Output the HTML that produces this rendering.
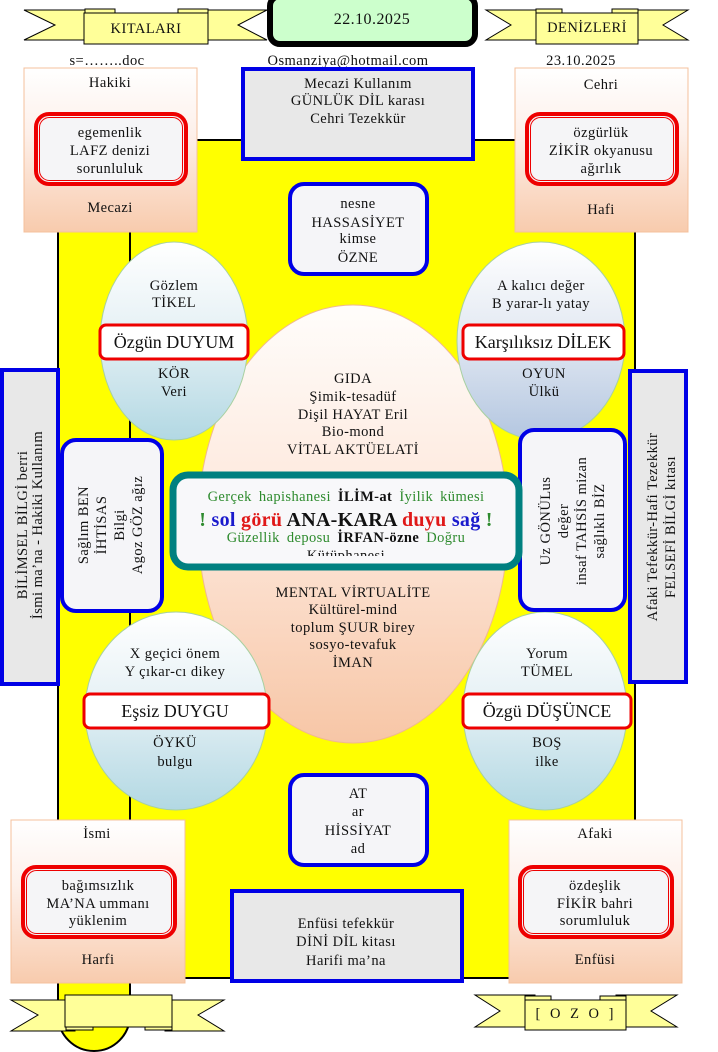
<!DOCTYPE html>
<html><head><meta charset="utf-8">
<style>
html,body{margin:0;padding:0;background:#fff;}
svg{display:block;}
text{font-family:"Liberation Serif","DejaVu Serif",serif;font-size:14.5px;fill:#111;letter-spacing:0.45px;}
.big{font-size:18px;letter-spacing:0px;}
</style></head>
<body>
<svg width="718" height="1052" viewBox="0 0 718 1052" xmlns="http://www.w3.org/2000/svg">
<defs>
<linearGradient id="peach" x1="0" y1="0" x2="0" y2="1">
<stop offset="0" stop-color="#ffffff"/><stop offset="0.4" stop-color="#fdf0ea"/><stop offset="1" stop-color="#f8cbad"/>
</linearGradient>
<linearGradient id="blueL" x1="0" y1="0" x2="0" y2="1">
<stop offset="0" stop-color="#ffffff"/><stop offset="0.45" stop-color="#e6f1f5"/><stop offset="1" stop-color="#b2d8e3"/>
</linearGradient>
<linearGradient id="blueR" x1="0" y1="0" x2="0" y2="1">
<stop offset="0" stop-color="#ffffff"/><stop offset="0.45" stop-color="#e4eaf3"/><stop offset="1" stop-color="#b3c6e0"/>
</linearGradient>
<linearGradient id="center" x1="0" y1="0" x2="0" y2="1">
<stop offset="0" stop-color="#fffdfb"/><stop offset="0.5" stop-color="#fde6d9"/><stop offset="1" stop-color="#f7c6a6"/>
</linearGradient>
<clipPath id="tealclip"><rect x="170" y="472" width="352" height="84"/></clipPath>
</defs>

<!-- yellow main area -->
<rect x="58" y="140" width="577" height="838" fill="#ffff00" stroke="#000" stroke-width="2"/>
<path d="M58,140 V1015 A36,36 0 0 0 130,1015 V140" fill="#ffff00" stroke="#000" stroke-width="2"/>

<!-- top banners -->
<polygon points="24,10 100,10 100,40 24,40 55,25" fill="#ffff99" stroke="#000" stroke-width="1"/>
<polygon points="192,10 267,10 238,25 267,40 192,40" fill="#ffff99" stroke="#000" stroke-width="1"/>
<rect x="85" y="9" width="30" height="5" fill="#ffff99" stroke="#000" stroke-width="1"/>
<rect x="178" y="9" width="30" height="5" fill="#ffff99" stroke="#000" stroke-width="1"/>
<rect x="84" y="13" width="124" height="31" fill="#ffff99" stroke="#000" stroke-width="1"/>
<text x="146" y="33" text-anchor="middle">KITALARI</text>

<polygon points="486,10 545,10 545,40 486,40 511,25" fill="#ffff99" stroke="#000" stroke-width="1"/>
<polygon points="630,10 688,10 663,25 688,40 630,40" fill="#ffff99" stroke="#000" stroke-width="1"/>
<rect x="536" y="9" width="26" height="5" fill="#ffff99" stroke="#000" stroke-width="1"/>
<rect x="612" y="9" width="26" height="5" fill="#ffff99" stroke="#000" stroke-width="1"/>
<rect x="536" y="13" width="102" height="31" fill="#ffff99" stroke="#000" stroke-width="1"/>
<text x="587" y="32" text-anchor="middle">DENİZLERİ</text>

<!-- date box -->
<rect x="270" y="-4" width="205" height="48" rx="10" fill="#ccffcc" stroke="#000" stroke-width="6"/>
<text x="372" y="24" text-anchor="middle" style="font-size:16px">22.10.2025</text>

<text x="107" y="65" text-anchor="middle">s=……..doc</text>
<text x="348" y="65" text-anchor="middle">Osmanziya@hotmail.com</text>
<text x="581" y="65" text-anchor="middle">23.10.2025</text>

<!-- Hakiki box -->
<rect x="24" y="68" width="173" height="164" fill="url(#peach)" stroke="#f4c09c" stroke-width="1"/>
<text x="110" y="87" text-anchor="middle">Hakiki</text>
<rect x="36" y="114" width="150" height="70" rx="13" fill="#f5f5f7" stroke="#ee0000" stroke-width="4"/>
<rect x="39.5" y="117.5" width="143" height="63" rx="10" fill="none" stroke="#ee0000" stroke-width="1"/>
<text x="110" y="137" text-anchor="middle">egemenlik</text>
<text x="110" y="155" text-anchor="middle">LAFZ denizi</text>
<text x="110" y="173" text-anchor="middle">sorunluluk</text>
<text x="110" y="212" text-anchor="middle">Mecazi</text>

<!-- Cehri box -->
<rect x="515" y="68" width="173" height="164" fill="url(#peach)" stroke="#f4c09c" stroke-width="1"/>
<text x="601" y="89" text-anchor="middle">Cehri</text>
<rect x="527" y="114" width="150" height="70" rx="13" fill="#f5f5f7" stroke="#ee0000" stroke-width="4"/>
<rect x="530.5" y="117.5" width="143" height="63" rx="10" fill="none" stroke="#ee0000" stroke-width="1"/>
<text x="601" y="137" text-anchor="middle">özgürlük</text>
<text x="601" y="155" text-anchor="middle">ZİKİR okyanusu</text>
<text x="601" y="173" text-anchor="middle">ağırlık</text>
<text x="601" y="214" text-anchor="middle">Hafi</text>

<!-- Mecazi Kullanım box -->
<rect x="243" y="69" width="230" height="90" fill="#e8e8e8" stroke="#0000e6" stroke-width="4"/>
<text x="358" y="88" text-anchor="middle">Mecazi Kullanım</text>
<text x="358" y="105" text-anchor="middle">GÜNLÜK DİL karası</text>
<text x="358" y="123" text-anchor="middle">Cehri Tezekkür</text>

<!-- nesne box -->
<rect x="290" y="184" width="137" height="90" rx="14" fill="#f5f5f8" stroke="#0000e6" stroke-width="4"/>
<text x="358" y="208" text-anchor="middle">nesne</text>
<text x="358" y="227" text-anchor="middle">HASSASİYET</text>
<text x="358" y="243" text-anchor="middle">kimse</text>
<text x="358" y="262" text-anchor="middle">ÖZNE</text>

<!-- left vertical box -->
<rect x="2" y="370" width="56" height="314" fill="#e8e8e8" stroke="#0000e6" stroke-width="4"/>
<g transform="translate(29,525) rotate(-90)">
<text x="0" y="-2" text-anchor="middle">BİLİMSEL BİLGİ berri</text>
<text x="0" y="13" text-anchor="middle">İsmi ma’na - Hakiki Kullanım</text>
</g>

<!-- right vertical box -->
<rect x="630" y="371" width="56" height="311" fill="#e8e8e8" stroke="#0000e6" stroke-width="4"/>
<g transform="translate(661,527) rotate(-90)">
<text x="0" y="-4" text-anchor="middle">Afaki Tefekkür-Hafi Tezekkür</text>
<text x="0" y="14" text-anchor="middle">FELSEFİ  BİLGİ kıtası</text>
</g>

<!-- central ellipse -->
<ellipse cx="353" cy="524" rx="155" ry="219" fill="url(#center)" stroke="#f0b890" stroke-width="1"/>
<text x="353" y="383" text-anchor="middle">GIDA</text>
<text x="353" y="401" text-anchor="middle">Şimik-tesadüf</text>
<text x="353" y="419" text-anchor="middle">Dişil HAYAT Eril</text>
<text x="353" y="436" text-anchor="middle">Bio-mond</text>
<text x="353" y="454" text-anchor="middle">VİTAL AKTÜELATİ</text>
<text x="353" y="597" text-anchor="middle">MENTAL VİRTUALİTE</text>
<text x="353" y="614" text-anchor="middle">Kültürel-mind</text>
<text x="353" y="632" text-anchor="middle">toplum ŞUUR birey</text>
<text x="353" y="649" text-anchor="middle">sosyo-tevafuk</text>
<text x="353" y="667" text-anchor="middle">İMAN</text>

<!-- top-left ellipse -->
<ellipse cx="174" cy="341" rx="74" ry="99" fill="url(#blueL)" stroke="#a8d0a0" stroke-width="1"/>
<text x="174" y="290" text-anchor="middle">Gözlem</text>
<text x="174" y="307" text-anchor="middle">TİKEL</text>
<rect x="100" y="325" width="148" height="34" rx="6" fill="#fff" stroke="#ee0000" stroke-width="3"/>
<text x="174" y="348" text-anchor="middle" class="big">Özgün DUYUM</text>
<text x="174" y="378" text-anchor="middle">KÖR</text>
<text x="174" y="396" text-anchor="middle">Veri</text>

<!-- top-right ellipse -->
<ellipse cx="541" cy="341" rx="84" ry="99" fill="url(#blueR)" stroke="#a8d0a0" stroke-width="1"/>
<text x="541" y="290" text-anchor="middle">A kalıcı değer</text>
<text x="541" y="308" text-anchor="middle">B  yarar-lı yatay</text>
<rect x="463" y="325" width="161" height="34" rx="6" fill="#fff" stroke="#ee0000" stroke-width="3"/>
<text x="543" y="348" text-anchor="middle" class="big">Karşılıksız DİLEK</text>
<text x="544" y="378" text-anchor="middle">OYUN</text>
<text x="544" y="396" text-anchor="middle">Ülkü</text>

<!-- bottom-left ellipse -->
<ellipse cx="176" cy="711" rx="91" ry="99" fill="url(#blueL)" stroke="#a8d0a0" stroke-width="1"/>
<text x="175" y="658" text-anchor="middle">X geçici önem</text>
<text x="175" y="676" text-anchor="middle">Y çıkar-cı dikey</text>
<rect x="84" y="694" width="185" height="34" rx="6" fill="#fff" stroke="#ee0000" stroke-width="3"/>
<text x="175" y="717" text-anchor="middle" class="big">Eşsiz DUYGU</text>
<text x="175" y="747" text-anchor="middle">ÖYKÜ</text>
<text x="175" y="766" text-anchor="middle">bulgu</text>

<!-- bottom-right ellipse -->
<ellipse cx="545" cy="711" rx="82" ry="99" fill="url(#blueL)" stroke="#a8d0a0" stroke-width="1"/>
<text x="547" y="658" text-anchor="middle">Yorum</text>
<text x="547" y="676" text-anchor="middle">TÜMEL</text>
<rect x="463" y="694" width="168" height="34" rx="6" fill="#fff" stroke="#ee0000" stroke-width="3"/>
<text x="547" y="717" text-anchor="middle" class="big">Özgü DÜŞÜNCE</text>
<text x="547" y="747" text-anchor="middle">BOŞ</text>
<text x="547" y="766" text-anchor="middle">ilke</text>

<!-- Sağlım box -->
<rect x="62" y="440" width="100" height="171" rx="14" fill="#f5f5f8" stroke="#0000e6" stroke-width="4"/>
<g transform="translate(111,525) rotate(-90)">
<text x="0" y="-23" text-anchor="middle">Sağlım BEN</text>
<text x="0" y="-5" text-anchor="middle">İHTİSAS</text>
<text x="0" y="13" text-anchor="middle">Bilgi</text>
<text x="0" y="31" text-anchor="middle">Agoz GÖZ ağız</text>
</g>

<!-- Uz GÖNÜL box -->
<rect x="520" y="430" width="105" height="180" rx="14" fill="#f5f5f8" stroke="#0000e6" stroke-width="4"/>
<g transform="translate(572,521) rotate(-90)">
<text x="0" y="-22" text-anchor="middle">Uz GÖNÜLus</text>
<text x="0" y="-4" text-anchor="middle">değer</text>
<text x="0" y="14" text-anchor="middle">insaf TAHSİS mizan</text>
<text x="0" y="32" text-anchor="middle">sağlıklı  BİZ</text>
</g>

<!-- teal center box -->
<rect x="173" y="475" width="346" height="92" rx="15" fill="#f8f8fa" stroke="#008080" stroke-width="7"/>
<g clip-path="url(#tealclip)">
<text x="346" y="501" text-anchor="middle" style="font-size:14.5px;letter-spacing:0.4px;word-spacing:3px"><tspan fill="#2e8b2e">Gerçek hapishanesi</tspan><tspan fill="#111" font-weight="bold">   İLİM-at   </tspan><tspan fill="#2e8b2e">İyilik kümesi</tspan></text>
<text x="346" y="526" text-anchor="middle" style="font-size:20px;font-weight:bold;letter-spacing:0.3px"><tspan fill="#2e8b2e">!</tspan><tspan fill="#1a1acc"> sol </tspan><tspan fill="#e01818">görü </tspan><tspan fill="#111">ANA-KARA </tspan><tspan fill="#e01818">duyu </tspan><tspan fill="#1a1acc">sağ </tspan><tspan fill="#2e8b2e">!</tspan></text>
<text x="346" y="542" text-anchor="middle" style="font-size:14.5px;letter-spacing:0.4px;word-spacing:3px"><tspan fill="#2e8b2e">Güzellik deposu</tspan><tspan fill="#111" font-weight="bold">   İRFAN-özne   </tspan><tspan fill="#2e8b2e">Doğru</tspan></text>
<text x="346" y="560" text-anchor="middle" style="font-size:14.5px" fill="#2e8b2e">Kütüphanesi</text>
</g>

<!-- AT box -->
<rect x="290" y="775" width="137" height="90" rx="14" fill="#f5f5f8" stroke="#0000e6" stroke-width="4"/>
<text x="358" y="798" text-anchor="middle">AT</text>
<text x="358" y="816" text-anchor="middle">ar</text>
<text x="358" y="835" text-anchor="middle">HİSSİYAT</text>
<text x="358" y="853" text-anchor="middle">ad</text>

<!-- Enfüsi box -->
<rect x="232" y="891" width="230" height="90" fill="#e8e8e8" stroke="#0000e6" stroke-width="4"/>
<text x="346" y="928" text-anchor="middle">Enfüsi tefekkür</text>
<text x="346" y="946" text-anchor="middle">DİNİ DİL kitası</text>
<text x="346" y="965" text-anchor="middle">Harifi ma’na</text>

<!-- İsmi box -->
<rect x="11" y="820" width="174" height="163" fill="url(#peach)" stroke="#f4c09c" stroke-width="1"/>
<text x="97" y="838" text-anchor="middle">İsmi</text>
<rect x="23" y="867" width="152" height="70" rx="13" fill="#f5f5f7" stroke="#ee0000" stroke-width="4"/>
<rect x="26.5" y="870.5" width="145" height="63" rx="10" fill="none" stroke="#ee0000" stroke-width="1"/>
<text x="98" y="890" text-anchor="middle">bağımsızlık</text>
<text x="98" y="908" text-anchor="middle">MA’NA ummanı</text>
<text x="98" y="925" text-anchor="middle">yüklenim</text>
<text x="98" y="964" text-anchor="middle">Harfi</text>

<!-- Afaki box -->
<rect x="509" y="820" width="173" height="163" fill="url(#peach)" stroke="#f4c09c" stroke-width="1"/>
<text x="595" y="838" text-anchor="middle">Afaki</text>
<rect x="520" y="867" width="152" height="70" rx="13" fill="#f5f5f7" stroke="#ee0000" stroke-width="4"/>
<rect x="523.5" y="870.5" width="145" height="63" rx="10" fill="none" stroke="#ee0000" stroke-width="1"/>
<text x="595" y="890" text-anchor="middle">özdeşlik</text>
<text x="595" y="908" text-anchor="middle">FİKİR bahri</text>
<text x="595" y="925" text-anchor="middle">sorumluluk</text>
<text x="595" y="964" text-anchor="middle">Enfüsi</text>

<!-- bottom-left banner -->
<polygon points="11,1000 75,1000 75,1031 11,1031 38,1015" fill="#ffff99" stroke="#000" stroke-width="1"/>
<polygon points="165,1000 224,1000 198,1015 224,1031 165,1031" fill="#ffff99" stroke="#000" stroke-width="1"/>
<rect x="66" y="1026" width="27" height="4" fill="#ffff99" stroke="#000" stroke-width="1"/>
<rect x="145" y="1026" width="27" height="4" fill="#ffff99" stroke="#000" stroke-width="1"/>
<rect x="65" y="995" width="107" height="32" fill="#ffff99" stroke="#000" stroke-width="1"/>

<!-- bottom-right banner -->
<polygon points="475,995 535,995 535,1027 475,1027 500,1011" fill="#ffff99" stroke="#000" stroke-width="1"/>
<polygon points="616,995 677,995 651,1011 677,1027 616,1027" fill="#ffff99" stroke="#000" stroke-width="1"/>
<rect x="525" y="996" width="26" height="5" fill="#ffff99" stroke="#000" stroke-width="1"/>
<rect x="600" y="996" width="26" height="5" fill="#ffff99" stroke="#000" stroke-width="1"/>
<rect x="525" y="1000" width="101" height="30" fill="#ffff99" stroke="#000" stroke-width="1"/>
<text x="576" y="1018" text-anchor="middle" style="letter-spacing:3px">[ O Z O ]</text>
</svg>
</body></html>
